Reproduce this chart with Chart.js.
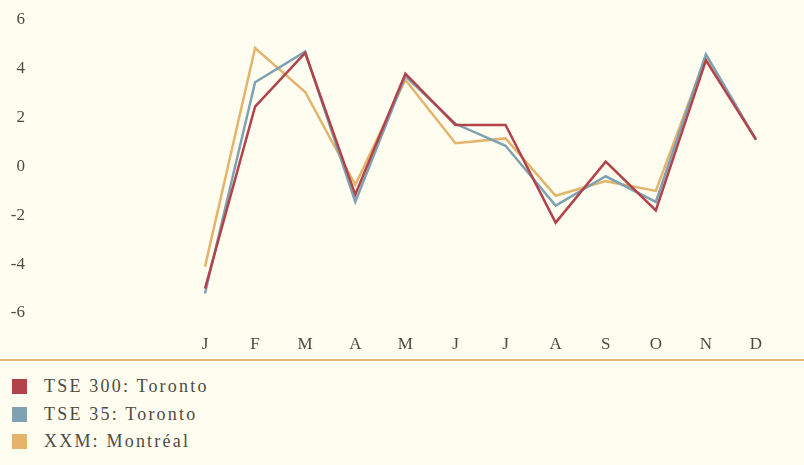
<!DOCTYPE html>
<html>
<head>
<meta charset="utf-8">
<script src="https://cdn.jsdelivr.net/npm/chart.js@4/dist/chart.umd.min.js"></script>
<style>
  html, body { margin: 0; padding: 0; background: #fffdef; }
  #wrap { position: relative; width: 804px; height: 359px; }
  #rule { width: 804px; height: 0; border-top: 2px solid #e2b57a; }
  #legend { list-style: none; margin: 0; padding: 12px 0 0 12px; font-family: "Liberation Serif", serif; font-size: 18px; letter-spacing: 2.2px; color: #4e4a44; }
  #legend li { height: 27.5px; display: flex; align-items: center; }
  #legend span.box { width: 15px; height: 15px; margin-right: 17px; display: inline-block; }
</style>
</head>
<body>
<div id="wrap"><canvas id="myChart"></canvas></div>
<div id="rule"></div>
<ul id="legend"></ul>
<script>
const months = ['J', 'F', 'M', 'A', 'M', 'J', 'J', 'A', 'S', 'O', 'N', 'D']
const seriesNames = ['TSE 300: Toronto', 'TSE 35: Toronto', 'XXM: Montréal']
const tse300 = [-5.0, 2.45, 4.65, -1.15, 3.8, 1.7, 1.7, -2.3, 0.2, -1.8, 4.35, 1.1]
const tse35 = [-5.2, 3.45, 4.7, -1.45, 3.7, 1.75, 0.85, -1.6, -0.4, -1.45, 4.6, 1.1]
const xxm = [-4.1, 4.85, 3.05, -0.75, 3.55, 0.95, 1.15, -1.2, -0.6, -1.0, 4.5, 1.1]
const colors = ['#b2434b', '#7ea2b2', '#e4b36c']

const font = { family: '"Liberation Serif", serif', size: 17 }

const canvas = document.getElementById('myChart')

const config = {
    type: 'line',
    data: {
        labels: months,
        datasets: [tse300, tse35, xxm].map((vals, i) => ({
            label: seriesNames[i],
            data: vals,
            borderColor: colors[i],
            backgroundColor: colors[i],
            borderWidth: 2.5,
            pointRadius: 0,
            tension: 0
        }))
    },
    options: {
        responsive: true,
        maintainAspectRatio: false,
        animation: false,
        layout: { padding: { top: 20, right: 48, left: 0, bottom: 0 } },
        plugins: { legend: { display: false }, tooltip: { enabled: false } },
        scales: {
            x: {
                offset: false,
                grid: { display: false, drawTicks: false },
                border: { display: false },
                ticks: { color: '#4e4a44', font, padding: 21, maxRotation: 0, autoSkip: false },
                afterFit: s => { s.height = 46 }
            },
            y: {
                min: -6,
                max: 6,
                grid: { display: false, drawTicks: false },
                border: { display: false },
                ticks: { stepSize: 2, color: '#4e4a44', font, padding: 180 },
                // big label gap: keep the width, drop the vertical padding it adds
                afterFit: s => { s.width = 205; s.paddingTop = 0; s.paddingBottom = 0 }
            }
        }
    }
}

new Chart(canvas, config)

// legend as plain list under the rule
const legend = document.getElementById('legend')
seriesNames.forEach((name, i) => {
    const li = document.createElement('li')
    li.innerHTML = '<span class="box" style="background:' + colors[i] + '"></span>' + name
    legend.appendChild(li)
})
</script>
</body>
</html>
